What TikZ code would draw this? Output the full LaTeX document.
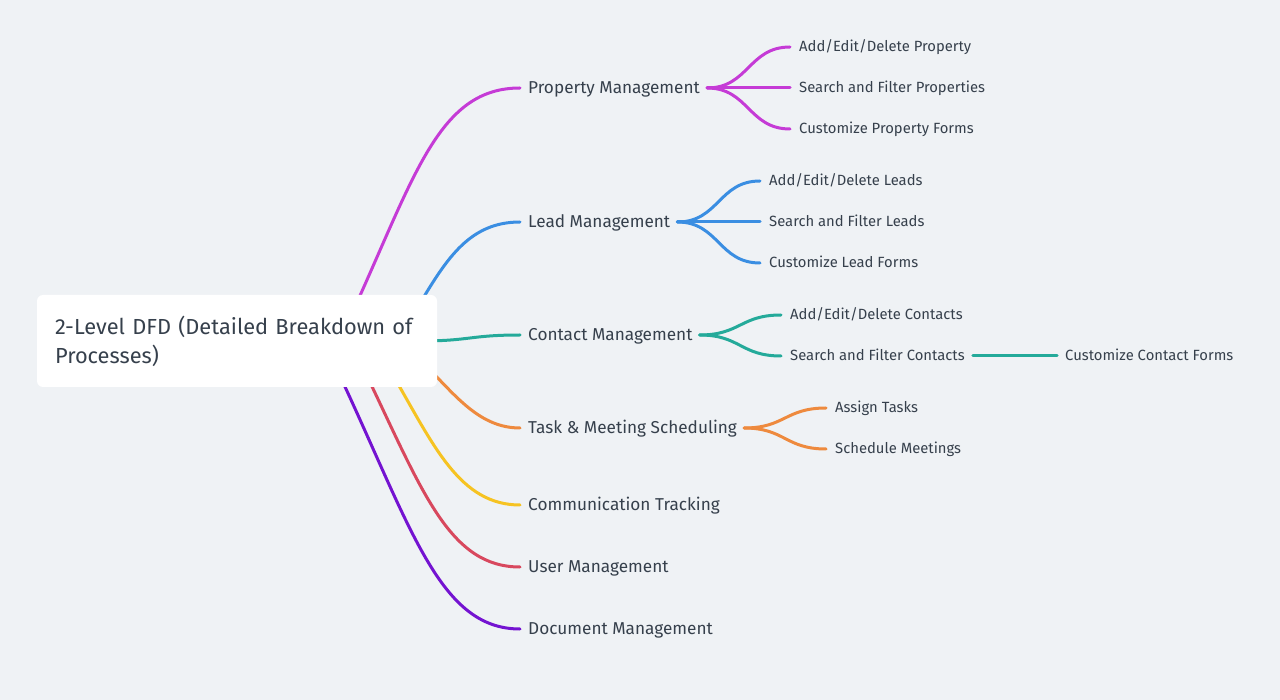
\documentclass[tikz,border=0pt]{standalone}
\usepackage{fontspec}
\setmainfont{Fira Sans}
\usetikzlibrary{calc}
\definecolor{bg}{HTML}{EFF2F5}
\definecolor{txt}{HTML}{36404C}
\definecolor{cpurple}{HTML}{C53BD6}
\definecolor{cblue}{HTML}{3A8EE2}
\definecolor{cteal}{HTML}{24AA9A}
\definecolor{corange}{HTML}{EE8A3E}
\definecolor{cyellow}{HTML}{F6C322}
\definecolor{cred}{HTML}{D8485E}
\definecolor{cviolet}{HTML}{7413D1}
\tikzset{
  hlink/.style={to path={let \p1=(\tikztostart), \p2=(\tikztotarget) in
     (\p1) .. controls ({(\x1+\x2)/2},\y1) and ({(\x1+\x2)/2},\y2) .. (\p2)}},
  lk/.style={line width=3pt, line cap=round},
  mainnode/.style={anchor=west, inner sep=0pt, text=txt, font=\fontsize{17.2}{20}\selectfont, text height=11pt, text depth=0pt},
  leafnode/.style={anchor=west, inner sep=0pt, text=txt, font=\fontsize{14.8}{17}\selectfont, text height=9.5pt, text depth=0pt},
  rootnode/.style={fill=white, rounded corners=6pt, minimum width=400pt, minimum height=92pt, inner xsep=18pt,
     text width=364pt, align=left, text=txt, font=\fontsize{21.8}{29}\selectfont},
}
\begin{document}
\begin{tikzpicture}[x=1pt,y=-1pt]
\fill[bg] (0,0) rectangle (1280,700);
\useasboundingbox (0,0) rectangle (1280,700);

% start points of the main branches (hidden behind the root)
\coordinate (s1) at (354,309);
\coordinate (s2) at (419,305);
\coordinate (s3) at (420,341);
\coordinate (s4) at (428,368);
\coordinate (s5) at (394,377);
\coordinate (s6) at (367,376);
\coordinate (s7) at (340,376);

% main nodes
\node[mainnode] (pm) at (528,88) {Property Management};
\node[mainnode] (lm) at (528,222) {Lead Management};
\node[mainnode] (cm) at (528,335) {Contact Management};
\node[mainnode] (tm) at (528,428) {Task \& Meeting Scheduling};
\node[mainnode] (ct) at (528,505) {Communication Tracking};
\node[mainnode] (um) at (528,567) {User Management};
\node[mainnode] (dm) at (528,629) {Document Management};

% leaves
\node[leafnode] (p1) at (799,47) {Add/Edit/Delete Property};
\node[leafnode] (p2) at (799,88) {Search and Filter Properties};
\node[leafnode] (p3) at (799,129) {Customize Property Forms};
\node[leafnode] (l1) at (769,181) {Add/Edit/Delete Leads};
\node[leafnode] (l2) at (769,222) {Search and Filter Leads};
\node[leafnode] (l3) at (769,263) {Customize Lead Forms};
\node[leafnode] (c1) at (790,315) {Add/Edit/Delete Contacts};
\node[leafnode] (c2) at (790,356) {Search and Filter Contacts};
\node[leafnode] (c3) at (1065,356) {Customize Contact Forms};
\node[leafnode] (t1) at (835,408) {Assign Tasks};
\node[leafnode] (t2) at (835,449) {Schedule Meetings};

% main links
\draw[lk,cpurple] (s1) .. controls +(62,-137) and +(-80,0) .. ([xshift=-8pt]pm.west);
\draw[lk,cblue]   (s2) .. controls +(28,-47) and +(-50,0) .. ([xshift=-8pt]lm.west);
\draw[lk,cteal]   (s3) .. controls +(50,0) and +(-50,0) .. ([xshift=-8pt]cm.west);
\draw[lk,corange] (s4) .. controls +(28,28) and +(-40,0) .. ([xshift=-8pt]tm.west);
\draw[lk,cyellow] (s5) .. controls +(40,69) and +(-60,0) .. ([xshift=-8pt]ct.west);
\draw[lk,cred]    (s6) .. controls +(56,117) and +(-70,0) .. ([xshift=-8pt]um.west);
\draw[lk,cviolet] (s7) .. controls +(72,154) and +(-80,0) .. ([xshift=-8pt]dm.west);

% second level
\foreach \c in {p1,p2,p3} \draw[lk,cpurple] ([xshift=7pt]pm.east) to[hlink] ([xshift=-9pt]\c.west);
\foreach \c in {l1,l2,l3} \draw[lk,cblue] ([xshift=7pt]lm.east) to[hlink] ([xshift=-9pt]\c.west);
\foreach \c in {c1,c2} \draw[lk,cteal] ([xshift=7pt]cm.east) to[hlink] ([xshift=-9pt]\c.west);
\draw[lk,cteal] ([xshift=8pt]c2.east) to[hlink] ([xshift=-8pt]c3.west);
\foreach \c in {t1,t2} \draw[lk,corange] ([xshift=7pt]tm.east) to[hlink] ([xshift=-9pt]\c.west);

% root
\node[rootnode] (root) at (237,341) {2-Level DFD (Detailed Breakdown of Processes)};
\end{tikzpicture}
\end{document}
